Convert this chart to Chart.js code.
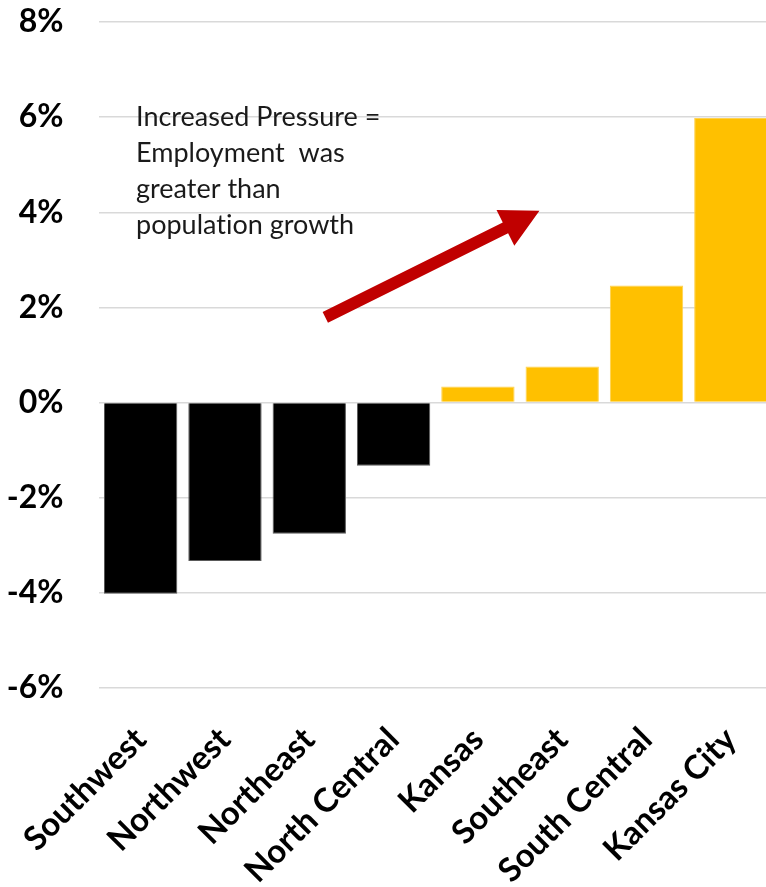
<!DOCTYPE html>
<html>
<head>
<meta charset="utf-8">
<script src="https://cdn.jsdelivr.net/npm/chart.js@4.4.1/dist/chart.umd.min.js"></script>
<style>
  html, body { margin: 0; padding: 0; background: #ffffff; overflow: hidden; }
  #wrap { position: relative; width: 773px; height: 887px; }
</style>
</head>
<body>
<div id="wrap"><canvas id="chart"></canvas></div>
<script>
// Net change: employment growth minus population growth, by region (%)
const regions = ['Southwest', 'Northwest', 'Northeast', 'North Central', 'Kansas', 'Southeast', 'South Central', 'Kansas City'];
const pressureGap = [-4.02, -3.33, -2.76, -1.33, 0.34, 0.76, 2.46, 5.98];
const yTicks = [-6, -4, -2, 0, 2, 4, 6, 8];

const noteLines = ['Increased Pressure =', 'Employment  was', 'greater than', 'populat\u200Cion growth'];
// Annotation placement in chart units (category index, percent)
const noteAnchor = { x: -0.055, y: 5.82 };
const arrowFrom = { x: 2.19, y: 1.79 };
const arrowTo = { x: 4.73, y: 4.03 };

const NEG_COLOR = '#000000';
const POS_COLOR = '#FFC000';
const ARROW_COLOR = '#C00000';

const annotationPlugin = {
  id: 'pressureNote',
  afterDatasetsDraw(chart) {
    const { ctx, scales: { x, y } } = chart;
    ctx.save();
    // text block
    ctx.fillStyle = '#1a1a1a';
    ctx.font = '27px Lato';
    ctx.textAlign = 'left';
    ctx.textBaseline = 'alphabetic';
    const tx = x.getPixelForValue(noteAnchor.x);
    const ty = y.getPixelForValue(noteAnchor.y);
    noteLines.forEach((line, i) => ctx.fillText(line, tx, ty + i * 36.2));

    // arrow
    const x0 = x.getPixelForValue(arrowFrom.x), y0 = y.getPixelForValue(arrowFrom.y);
    const x1 = x.getPixelForValue(arrowTo.x), y1 = y.getPixelForValue(arrowTo.y);
    const ang = Math.atan2(y1 - y0, x1 - x0);
    const len = Math.hypot(x1 - x0, y1 - y0);
    const headLen = 38, headHalf = 20, shaftHalf = 6;
    ctx.translate(x0, y0);
    ctx.rotate(ang);
    ctx.beginPath();
    ctx.moveTo(0, -shaftHalf);
    ctx.lineTo(len - headLen, -shaftHalf);
    ctx.lineTo(len - headLen, -headHalf);
    ctx.lineTo(len, 0);
    ctx.lineTo(len - headLen, headHalf);
    ctx.lineTo(len - headLen, shaftHalf);
    ctx.lineTo(0, shaftHalf);
    ctx.closePath();
    ctx.fillStyle = ARROW_COLOR;
    ctx.fill();
    ctx.restore();
  }
};

const barColors = pressureGap.map(v => v < 0 ? NEG_COLOR : POS_COLOR);
const barBorders = pressureGap.map(v => v < 0 ? '#5a5a5a' : '#FFD24D');

// keep the plot area fixed: no extra room reserved for overhanging tick labels
function noOverhang(scale) {
  scale.paddingLeft = 0;
  scale.paddingRight = 0;
  scale.paddingTop = 0;
  scale.paddingBottom = 0;
}

new Chart(document.getElementById('chart'), {
  type: 'bar',
  data: {
    labels: regions,
    datasets: [{
      data: pressureGap,
      backgroundColor: barColors,
      borderColor: barBorders,
      borderWidth: 1,
      barPercentage: 0.87,
      categoryPercentage: 1.0
    }]
  },
  options: {
    responsive: true,
    maintainAspectRatio: false,
    animation: false,
    layout: { padding: { top: 22, right: 0, bottom: 0, left: 0 } },
    plugins: {
      legend: { display: false },
      tooltip: { enabled: false }
    },
    scales: {
      x: {
        grid: { display: false, drawTicks: false },
        border: { display: false },
        ticks: {
          color: '#000000',
          font: { family: 'Lato', size: 33, weight: 'bold' },
          minRotation: 45,
          maxRotation: 45,
          padding: 32,
          autoSkip: false
        },
        afterFit(scale) { scale.height = 199; noOverhang(scale); }
      },
      y: {
        min: -6,
        max: 8,
        grid: { color: '#d9d9d9', lineWidth: 1.5, drawTicks: false },
        border: { display: false },
        afterBuildTicks(scale) { scale.ticks = yTicks.map(v => ({ value: v })); },
        ticks: {
          color: '#000000',
          font: { family: 'Lato', size: 32, weight: 'bold' },
          padding: 35,
          callback: v => v + '%'
        },
        afterFit(scale) { scale.width = 98.5; noOverhang(scale); }
      }
    }
  },
  plugins: [annotationPlugin]
});
</script>
</body>
</html>
